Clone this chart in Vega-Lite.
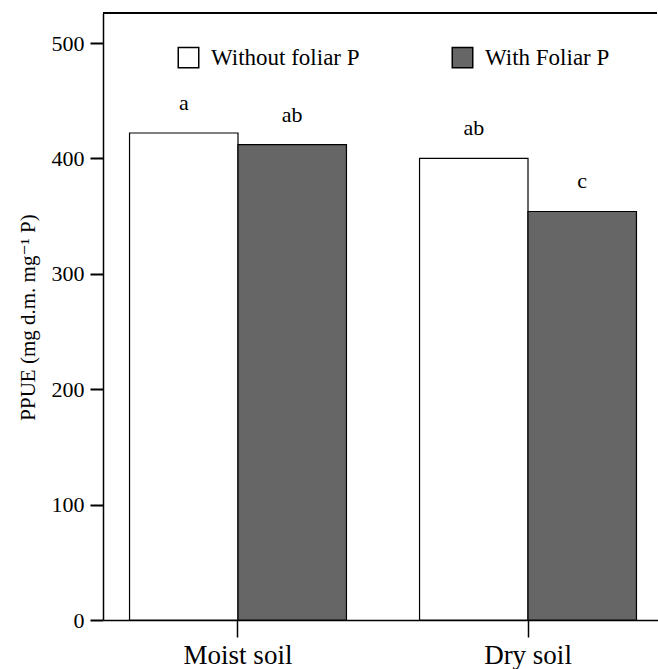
{
  "$schema": "https://vega.github.io/schema/vega-lite/v6.json",
  "width": 554,
  "height": 607,
  "autosize": {"type": "none"},
  "padding": {"left": 103, "top": 13, "right": 1, "bottom": 49},
  "background": "white",
  "data": {
    "values": [
      {"soil": "Moist soil", "treatment": "Without foliar P", "ppue": 422, "letter": "a"},
      {"soil": "Moist soil", "treatment": "With Foliar P", "ppue": 412, "letter": "ab"},
      {"soil": "Dry soil", "treatment": "Without foliar P", "ppue": 400, "letter": "ab"},
      {"soil": "Dry soil", "treatment": "With Foliar P", "ppue": 354, "letter": "c"}
    ]
  },
  "encoding": {
    "x": {
      "field": "soil",
      "type": "nominal",
      "sort": ["Moist soil", "Dry soil"],
      "scale": {"range": [0, 560], "paddingInner": 0.252, "paddingOuter": 0.0915},
      "axis": {
        "title": null,
        "labelAngle": 0,
        "labelFontSize": 27,
        "labelColor": "black",
        "labelBaseline": "alphabetic",
        "labelPadding": 26,
        "tickSize": 17,
        "tickWidth": 1.5,
        "tickColor": "black",
        "domainColor": "black",
        "domainWidth": 1.5
      }
    },
    "xOffset": {
      "field": "treatment",
      "type": "nominal",
      "sort": ["Without foliar P", "With Foliar P"],
      "scale": {"paddingInner": 0, "paddingOuter": 0}
    },
    "y": {
      "field": "ppue",
      "type": "quantitative",
      "scale": {"domain": [0, 526], "nice": false},
      "axis": {
        "title": "PPUE (mg d.m. mg⁻¹ P)",
        "titleFontSize": 21,
        "titleFontWeight": "normal",
        "titleColor": "black",
        "titleAngle": -90,
        "titleX": -69,
        "titleY": 304,
        "titleBaseline": "alphabetic",
        "titleAlign": "center",
        "values": [0, 100, 200, 300, 400, 500],
        "grid": false,
        "labelFontSize": 22,
        "labelColor": "black",
        "labelPadding": 6,
        "tickSize": 13,
        "tickWidth": 2,
        "tickColor": "black",
        "domainColor": "black",
        "domainWidth": 1.5
      }
    }
  },
  "layer": [
    {
      "mark": {"type": "bar", "stroke": "black", "strokeWidth": 1.2},
      "encoding": {
        "fill": {
          "field": "treatment",
          "type": "nominal",
          "sort": ["Without foliar P", "With Foliar P"],
          "scale": {"domain": ["Without foliar P", "With Foliar P"], "range": ["white", "#666666"]},
          "legend": {
            "title": null,
            "orient": "none",
            "direction": "horizontal",
            "legendX": 74,
            "legendY": 33,
            "symbolType": "square",
            "symbolSize": 420,
            "symbolStrokeColor": "black",
            "symbolStrokeWidth": 1.5,
            "labelFontSize": 23,
            "labelColor": "black",
            "labelOffset": 11,
            "labelLimit": 300,
            "columnPadding": 89
          }
        }
      }
    },
    {
      "mark": {
        "type": "text",
        "fontSize": 22,
        "color": "black",
        "baseline": "alphabetic",
        "dy": -23
      },
      "encoding": {"text": {"field": "letter"}}
    },
    {
      "mark": {"type": "rule", "color": "black", "strokeWidth": 1.5},
      "encoding": {"y": {"datum": 526}, "x": null, "xOffset": null}
    }
  ],
  "config": {
    "view": {"stroke": null},
    "font": "'Liberation Serif', 'DejaVu Serif', serif"
  }
}
